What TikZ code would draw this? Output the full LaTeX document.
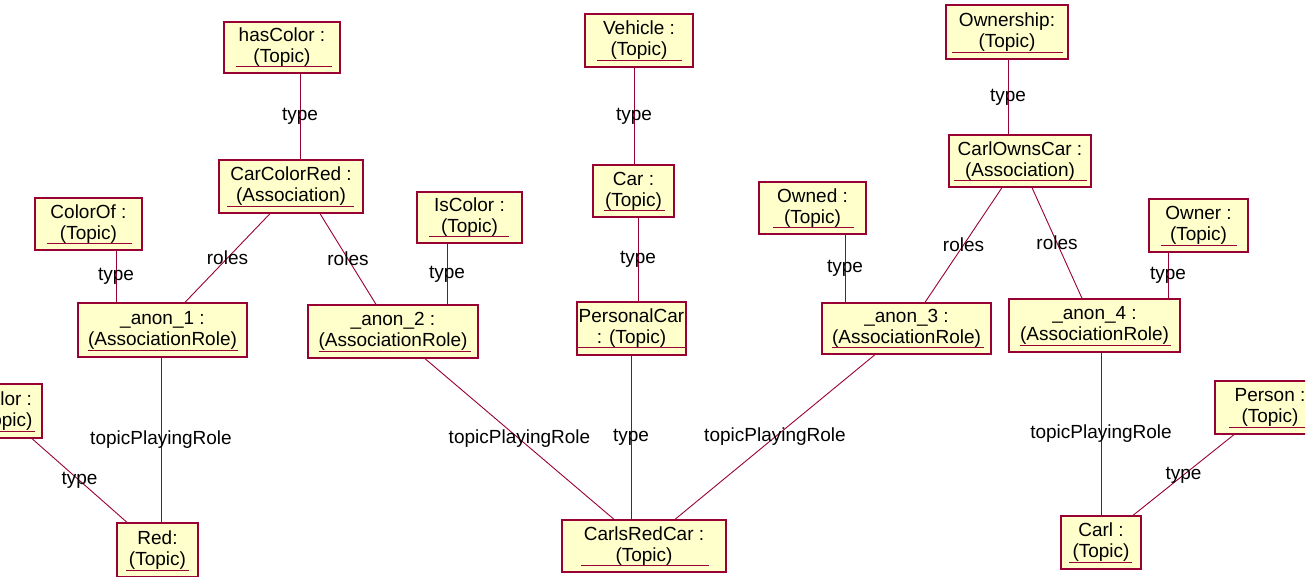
\documentclass[tikz,border=0pt]{standalone}
\usepackage{fontspec}
\setmainfont{Liberation Sans}
\definecolor{umlred}{RGB}{153,0,51}
\definecolor{umlfill}{RGB}{255,255,204}
\begin{document}
\begin{tikzpicture}[x=1pt,y=-1pt,
  obj/.style={draw=umlred, fill=umlfill, line width=1.3pt, minimum height=52,
              inner sep=0pt, align=center, font=\fontsize{19}{21}\selectfont},
  link/.style={draw=umlred, line width=0.9pt},
  lbl/.style={font=\fontsize{19}{21}\selectfont, inner sep=0pt, text=black},
  uline/.style={draw=umlred, line width=0.9pt}]
\path[use as bounding box] (0,0) rectangle (1313,577);
\begin{scope}
\clip (0,0) rectangle (1305,577);

% objects
\node[obj, minimum width=116, minimum height=51] (hasColor)    at (282,47.5)   {hasColor :\\(Topic)};
\node[obj, minimum width=144, minimum height=53] (CarColorRed) at (291,186.5)  {CarColorRed :\\(Association)};
\node[obj, minimum width=107]                    (ColorOf)     at (88.5,224)   {ColorOf :\\(Topic)};
\node[obj, minimum width=169, minimum height=54] (anon1)       at (162.5,330)  {\_anon\_1 :\\(AssociationRole)};
\node[obj, minimum width=105, minimum height=51] (IsColor)     at (469.5,217.5){IsColor :\\(Topic)};
\node[obj, minimum width=170, minimum height=53] (anon2)       at (393,331.5)  {\_anon\_2 :\\(AssociationRole)};
\node[obj, minimum width=108, minimum height=53] (Vehicle)     at (639,40.5)   {Vehicle :\\(Topic)};
\node[obj, minimum width=81]                     (Car)         at (633.5,191)  {Car :\\(Topic)};
\node[obj, minimum width=109, minimum height=53] (PersonalCar) at (631.5,328.5){PersonalCar\\: (Topic)};
\node[obj, minimum width=164]                    (CarlsRedCar) at (644,546)    {CarlsRedCar :\\(Topic)};
\node[obj, minimum width=107]                    (Owned)       at (812.5,208)  {Owned :\\(Topic)};
\node[obj, minimum width=169, minimum height=51] (anon3)       at (906.5,328.5){\_anon\_3 :\\(AssociationRole)};
\node[obj, minimum width=122, minimum height=54] (Ownership)   at (1007,32)    {Ownership:\\(Topic)};
\node[obj, minimum width=142]                    (CarlOwnsCar) at (1020,161)   {CarlOwnsCar :\\(Association)};
\node[obj, minimum width=99, minimum height=53]  (Owner)       at (1198.5,225.5){Owner :\\(Topic)};
\node[obj, minimum width=171, minimum height=53] (anon4)       at (1094.5,325.5){\_anon\_4 :\\(AssociationRole)};
\node[obj, minimum width=110, minimum height=53] (Person)      at (1270,407.5) {Person :\\(Topic)};
\node[obj, minimum width=80, minimum height=53]  (Carl)        at (1101,542.5) {Carl :\\(Topic)};
\node[obj, minimum width=81, minimum height=54]  (Red)         at (157.5,550)  {Red:\\(Topic)};
\node[obj, minimum width=76, minimum height=54]  (Color)       at (4,411)      {Color :\\(Topic)};

% underlined object names
\foreach \n/\a/\b in {hasColor/13/9, CarColorRed/9/10, ColorOf/13/11, anon1/11/10,
    IsColor/13/14, anon2/12/8, Vehicle/13/12, Car/12/10, CarlsRedCar/20/18,
    Owned/15/13, anon3/11/8, Ownership/7/6, CarlOwnsCar/6/5, Owner/13/12,
    anon4/12/10, Person/15/0, Carl/9/10, Red/10/10, Color/10/8}
  \draw[uline] ([xshift=\a, yshift=7]\n.south west) -- ([xshift=-\b, yshift=7]\n.south east);
\draw[uline] ([yshift=8]PersonalCar.south west) -- ([yshift=8]PersonalCar.south east);

% links
\draw[link] ([xshift=18]hasColor.south) -- node[lbl] {type} ([xshift=9]CarColorRed.north);
\draw[link] ([xshift=-21]CarColorRed.south) -- node[lbl] {roles} ([xshift=22.5]anon1.north);
\draw[link] ([xshift=29]CarColorRed.south) -- node[lbl] {roles} ([xshift=-17]anon2.north);
\draw[link] ([xshift=27.5]ColorOf.south) -- node[lbl] {type} ([xshift=-46.5]anon1.north);
\draw[link] ([xshift=-22.5]IsColor.south) -- node[lbl] {type} ([xshift=54]anon2.north);
\draw[link] ([xshift=-1.5]anon1.south) -- node[lbl] {topicPlayingRole} ([xshift=3.5]Red.north);
\draw[link] ([xshift=28]Color.south) -- node[lbl] {type} ([xshift=-30.5]Red.north);
\draw[link] ([xshift=32]anon2.south) -- node[lbl] {topicPlayingRole} ([xshift=-30]CarlsRedCar.north);
\draw[link] ([xshift=-5]Vehicle.south) -- node[lbl] {type} ([xshift=0.5]Car.north);
\draw[link] ([xshift=4.5]Car.south) -- node[lbl] {type} ([xshift=6.5]PersonalCar.north);
\draw[link] ([xshift=-0.5]PersonalCar.south) -- node[lbl] {type} ([xshift=-13]CarlsRedCar.north);
\draw[link] ([xshift=-31.5]anon3.south) -- node[lbl] {topicPlayingRole} ([xshift=31]CarlsRedCar.north);
\draw[link] ([xshift=32.5]Owned.south) -- node[lbl] {type} ([xshift=-61.5]anon3.north);
\draw[link] ([xshift=1]Ownership.south) -- node[lbl] {type} ([xshift=-12]CarlOwnsCar.north);
\draw[link] ([xshift=-18]CarlOwnsCar.south) -- node[lbl] {roles} ([xshift=18.5]anon3.north);
\draw[link] ([xshift=12]CarlOwnsCar.south) -- node[lbl] {roles} ([xshift=-12.5]anon4.north);
\draw[link] ([xshift=-30.5]Owner.south) -- node[lbl] {type} ([xshift=73.5]anon4.north);
\draw[link] ([xshift=6.5]anon4.south) -- node[lbl] {topicPlayingRole} (Carl.north);
\draw[link] ([xshift=-36]Person.south) -- node[lbl] {type} ([xshift=32]Carl.north);
\end{scope}
\end{tikzpicture}
\end{document}
